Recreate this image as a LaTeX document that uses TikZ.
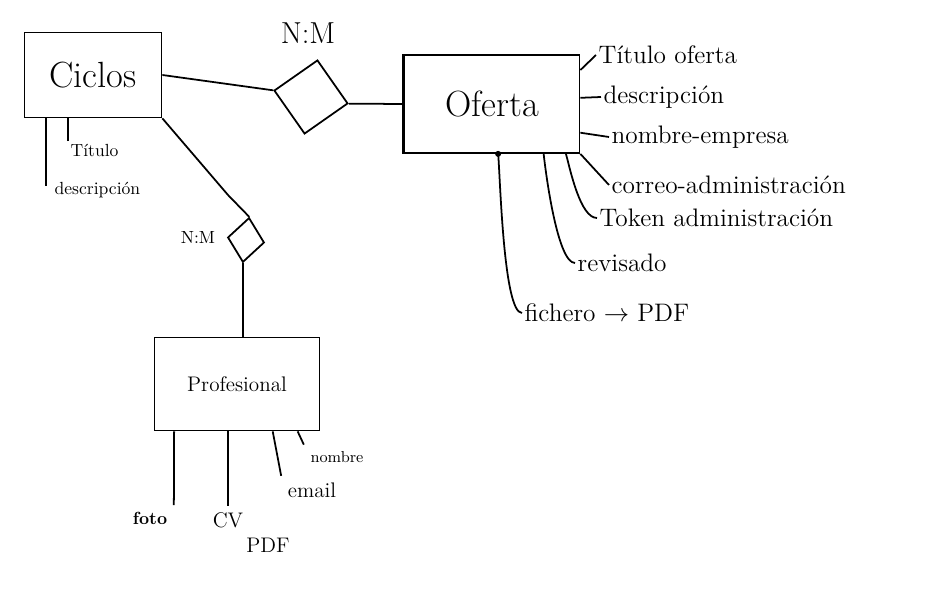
\documentclass[tikz,border=0pt]{standalone}
\usepackage{tikz}
\usetikzlibrary{arrows.meta, calc, shapes.geometric, positioning}

\begin{document}
\begin{tikzpicture}[x=0.2mm, y=-0.2mm, line width=1pt,
    entity/.style={draw, rectangle, line width=1pt, inner sep=0pt},
    relation/.style={draw, diamond, aspect=1, line width=1pt, inner sep=0pt},
    attr/.style={anchor=west, inner sep=1pt, font=\Large}]
  \useasboundingbox (0,0) rectangle (946,603);

  % Entities
  \node[entity, minimum width=27.4mm, minimum height=17mm, font=\huge] (ciclos) at (93,75) {Ciclos};
  \node[entity, minimum width=35mm, minimum height=19.6mm, font=\huge] (oferta) at (492,104) {Oferta};
  \node[entity, minimum width=33mm, minimum height=18.6mm, font=\large] (profesional) at (237,384) {Profesional};
  \draw[line width=2pt] (oferta.north west) -- (oferta.south west);

  % Relationships
  \node[relation, minimum width=15mm, minimum height=15mm, rotate=-10] (rel1) at (311,97) {};
  \node[font=\LARGE] (rel1lab) at (308,33) {N:M};
  \node[relation, minimum width=7.4mm, minimum height=9mm, rotate=-8] (rel2) at (246,240) {};
  \node[font=\normalsize, left=1mm of rel2] (rel2lab) {N:M};
  \coordinate (bend) at (228,195);

  \draw (ciclos.east) -- (rel1.west);
  \draw (rel1.east) -- (oferta.west);
  \draw (ciclos.south east) -- (bend) -- (rel2.north);
  \draw (rel2.south) -- (rel2.south |- profesional.north);

  % Attributes of Ciclos
  \node[attr, font=\normalsize] (ctitulo) at (68,150) {Título};
  \node[attr, font=\normalsize] (cdesc) at (52,190) {descripción};
  \coordinate (cdescend) at (46,186);
  \draw (ctitulo.north west) -- (ctitulo.north west |- ciclos.south);
  \draw (cdescend) -- (cdescend |- ciclos.south);

  % Attributes of Oferta
  \node[attr] (otitulo) at (596,55) {Título oferta};
  \node[attr] (odesc) at (601,97) {descripción};
  \node[attr] (onombre) at (609,137) {nombre-empresa};
  \node[attr] (ocorreo) at (609,185) {correo-administración};
  \node[attr] (otoken) at (597,218) {Token administración};
  \node[attr] (orev) at (575,263) {revisado};
  \node[attr] (ofich) at (522,313) {fichero $\rightarrow$ PDF};

  \draw (oferta.21) -- (otitulo.west);
  \draw (oferta.4) -- (odesc.west);
  \draw (oferta.-18) -- (onombre.west);
  \draw (oferta.south east) -- (ocorreo.west);
  \draw (oferta.-34) to[out=-75, in=180, looseness=0.6] (otoken.west);
  \draw (oferta.-44) to[out=-84, in=180, looseness=0.4] (orev.west);
  \draw (oferta.-83) to[out=-84, in=180, looseness=0.3] (ofich.west);
  \fill (oferta.-83) circle (3);

  % Attributes of Profesional
  \node[font=\normalsize\bfseries] (pfoto) at (150,518) {foto};
  \node[font=\large] (pcv) at (228,520) {CV};
  \node[font=\large] (ppdf) at (268,545) {PDF};
  \node[font=\large] (pemail) at (312,490) {email};
  \node[font=\small] (pnombre) at (337,457) {nombre};

  \draw (profesional.-143) -- (pfoto.north east);
  \draw (pcv.north |- profesional.south) -- (pcv.north);
  \draw (profesional.-53) -- (pemail.north west);
  \draw (profesional.-38) -- (pnombre.north west);
\end{tikzpicture}
\end{document}
